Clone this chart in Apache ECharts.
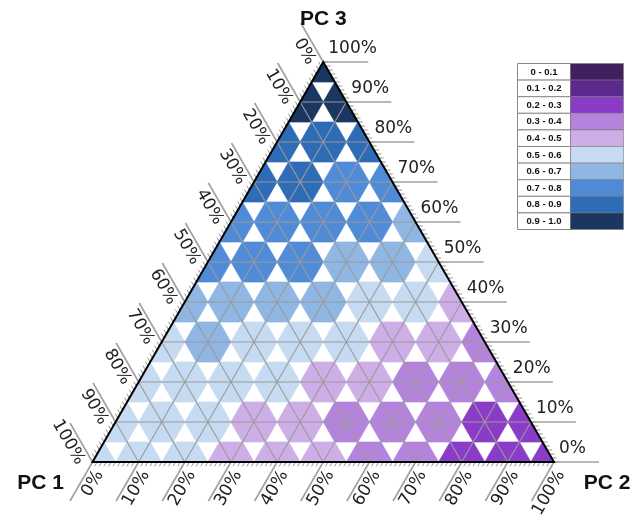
<!DOCTYPE html>
<html><head><meta charset="utf-8">
<script src="https://cdn.jsdelivr.net/npm/echarts@6.0.0/dist/echarts.min.js"></script>
<style>html,body{margin:0;padding:0;background:#fff}#c{width:633px;height:517px}</style>
</head><body><div id="c"></div>
<script>
// ---------- data ----------
const axisNames = ['PC 1', 'PC 2', 'PC 3'];
const tickLabels = ['0%','10%','20%','30%','40%','50%','60%','70%','80%','90%','100%'];
const classLabels = ['0 - 0.1','0.1 - 0.2','0.2 - 0.3','0.3 - 0.4','0.4 - 0.5','0.5 - 0.6','0.6 - 0.7','0.7 - 0.8','0.8 - 0.9','0.9 - 1.0'];
const classColors = ['#40205e','#5b2a8c','#8a3cc8','#b484dc','#cdaee6','#c6dbf1','#90b6e4','#508bd8','#2e6cb8','#1b3660'];
// hexagon classes (index into classColors); one array per PC3 level, indexed by PC2 level (10% steps)
const pc3_000 = [5,5,5,4,4,4,3,3,2,2,2];
const pc3_010 = [5,5,5,4,4,3,3,3,2,2];
const pc3_020 = [5,5,5,5,4,4,3,3,3];
const pc3_030 = [5,6,5,5,5,4,4,3];
const pc3_040 = [6,6,6,6,5,5,4];
const pc3_050 = [7,7,7,6,6,5];
const pc3_060 = [7,7,7,7,6];
const pc3_070 = [8,8,7,7];
const pc3_080 = [8,8,8];
const pc3_090 = [9,9];
const pc3_100 = [9];
const hexRows = [pc3_000,pc3_010,pc3_020,pc3_030,pc3_040,pc3_050,pc3_060,pc3_070,pc3_080,pc3_090,pc3_100];

// ---------- helpers ----------
const N = 20; // 5% sub-lattice
function tern(p2, p3) { return [p2 + p3 / 2, p3]; }
function hexClass(I, K) { return hexRows[K / 2][I / 2]; }

const cells = [];
for (let k = 0; k < N; k++) {
  for (let i = 0; i + k < N; i++) {
    let I, K, white = false;
    if (i % 2 === 1 && k % 2 === 1) white = true;
    else if (i % 2 === 0 && k % 2 === 0) { I = i; K = k; }
    else if (i % 2 === 0) { I = i; K = k + 1; }
    else { I = i + 1; K = k; }
    if (!white) cells.push([i, k, 0, hexClass(I, K)]);
    if (i + k <= N - 2) {
      white = false;
      if (i % 2 === 0 && k % 2 === 0) white = true;
      else if (i % 2 === 1 && k % 2 === 1) { I = i + 1; K = k + 1; }
      else if (i % 2 === 0) { I = i; K = k + 1; }
      else { I = i + 1; K = k; }
      if (!white) cells.push([i, k, 1, hexClass(I, K)]);
    }
  }
}

const gridLines = [];
for (let f = 0; f < 3; f++) for (let t = 1; t < 10; t++) gridLines.push([f, t]);
const majorTicks = [];
for (let f = 0; f < 3; f++) for (let t = 0; t <= 10; t++) majorTicks.push([f, t]);
const minorTicks = [];
for (let f = 0; f < 3; f++) for (let t = 0; t <= 100; t++) minorTicks.push([f, t]);

function unit(a, b) { const dx = b[0] - a[0], dy = b[1] - a[1]; const l = Math.hypot(dx, dy); return [dx / l, dy / l]; }
function corners(api) {
  return { A: api.coord(tern(0, 0)), B: api.coord(tern(1, 0)), C: api.coord(tern(0, 1)) };
}
// f: 0 = PC1 (left edge), 1 = PC2 (bottom edge), 2 = PC3 (right edge)
function edgePoint(api, f, v) {
  if (f === 0) return api.coord(tern(0, 1 - v));
  if (f === 1) return api.coord(tern(v, 0));
  return api.coord(tern(1 - v, v));
}
function edgeDir(api, f) {
  const { A, B, C } = corners(api);
  if (f === 0) return unit(B, C);
  if (f === 1) return unit(C, A);
  return [1, 0];
}

const labelFont = '17px "DejaVu Sans", sans-serif';
const option = {
  animation: false,
  backgroundColor: '#fff',
  grid: { left: 92.5, right: 79, top: 62, bottom: 55 },
  xAxis: { type: 'value', min: 0, max: 1, show: false },
  yAxis: { type: 'value', min: 0, max: 1, show: false },
  series: [
    {
      type: 'custom', clip: false, z: 1, data: cells,
      renderItem(params, api) {
        const i = api.value(0), k = api.value(1), dir = api.value(2), cls = api.value(3);
        const pts = dir === 0 ? [[i, k], [i + 1, k], [i, k + 1]] : [[i + 1, k], [i, k + 1], [i + 1, k + 1]];
        const px = pts.map(p => api.coord(tern(p[0] / N, p[1] / N)));
        const col = classColors[cls];
        return { type: 'polygon', shape: { points: px }, style: { fill: col, stroke: col, lineWidth: 0.7 } };
      }
    },
    {
      type: 'custom', clip: false, z: 2, data: gridLines,
      renderItem(params, api) {
        const f = api.value(0), v = api.value(1) / 10;
        let a, b;
        if (f === 0) { a = tern(1 - v, 0); b = tern(0, 1 - v); }
        else if (f === 1) { a = tern(v, 0); b = tern(v, 1 - v); }
        else { a = tern(0, v); b = tern(1 - v, v); }
        const p = api.coord(a), q = api.coord(b);
        return { type: 'line', shape: { x1: p[0], y1: p[1], x2: q[0], y2: q[1] }, style: { stroke: '#9a9a9a', lineWidth: 1.1 } };
      }
    },
    {
      type: 'custom', clip: false, z: 3, data: minorTicks,
      renderItem(params, api) {
        const f = api.value(0), v = api.value(1) / 100;
        const p = edgePoint(api, f, v), d = edgeDir(api, f);
        return { type: 'line', shape: { x1: p[0], y1: p[1], x2: p[0] + d[0] * 5, y2: p[1] + d[1] * 5 }, style: { stroke: '#8a8a8a', lineWidth: 0.9 } };
      }
    },
    {
      type: 'custom', clip: false, z: 4, data: majorTicks,
      renderItem(params, api) {
        const f = api.value(0), t = api.value(1), v = t / 10;
        const p = edgePoint(api, f, v), d = edgeDir(api, f);
        const line = { type: 'line', shape: { x1: p[0], y1: p[1], x2: p[0] + d[0] * 45, y2: p[1] + d[1] * 45 }, style: { stroke: '#a0a0a0', lineWidth: 1.6 } };
        let text;
        if (f === 2) {
          text = { type: 'text', x: p[0] + 5, y: p[1] - 13, style: { text: tickLabels[t], x: 0, y: 0, align: 'left', verticalAlign: 'middle', font: labelFont, fill: '#222' } };
        } else {
          const perp = [d[1], -d[0]];
          const ax = p[0] + perp[0] * 11 + d[0] * 5, ay = p[1] + perp[1] * 11 + d[1] * 5;
          text = { type: 'text', x: ax, y: ay, rotation: f === 1 ? Math.PI / 3 : -Math.PI / 3,
            style: { text: tickLabels[t], x: 0, y: 0, align: 'right', verticalAlign: 'middle', font: labelFont, fill: '#222' } };
        }
        return { type: 'group', children: [line, text] };
      }
    },
    {
      type: 'custom', clip: false, z: 5, data: [[0]],
      renderItem(params, api) {
        const { A, B, C } = corners(api);
        const tf = 'bold 21px "Liberation Sans", Arial, sans-serif';
        return { type: 'group', children: [
          { type: 'polygon', shape: { points: [A, B, C] }, style: { fill: 'none', stroke: '#000', lineWidth: 2 } },
          { type: 'text', x: A[0] - 52, y: A[1] + 21, style: { text: axisNames[0], x: 0, y: 0, align: 'center', verticalAlign: 'middle', font: tf, fill: '#111' } },
          { type: 'text', x: B[0] + 53, y: B[1] + 21, style: { text: axisNames[1], x: 0, y: 0, align: 'center', verticalAlign: 'middle', font: tf, fill: '#111' } },
          { type: 'text', x: C[0], y: C[1] - 43, style: { text: axisNames[2], x: 0, y: 0, align: 'center', verticalAlign: 'middle', font: tf, fill: '#111' } }
        ] };
      }
    }
  ],
  graphic: [{
    type: 'group', left: 517, top: 63,
    children: classLabels.map((lab, idx) => ({
      type: 'group', y: idx * 16.6,
      children: [
        { type: 'rect', shape: { x: 0, y: 0, width: 53, height: 16.6 }, style: { fill: '#fff', stroke: '#8a8a8a', lineWidth: 1 } },
        { type: 'text', x: 26.5, y: 8.5, style: { text: lab, align: 'center', verticalAlign: 'middle', font: 'bold 9.5px "Liberation Sans", Arial, sans-serif', fill: '#111' } },
        { type: 'rect', shape: { x: 53, y: 0, width: 53, height: 16.6 }, style: { fill: classColors[idx], stroke: '#7a7a7a', lineWidth: 0.6 } }
      ]
    }))
  }]
};
const chart = echarts.init(document.getElementById('c'));
chart.setOption(option);
</script>
</body></html>
